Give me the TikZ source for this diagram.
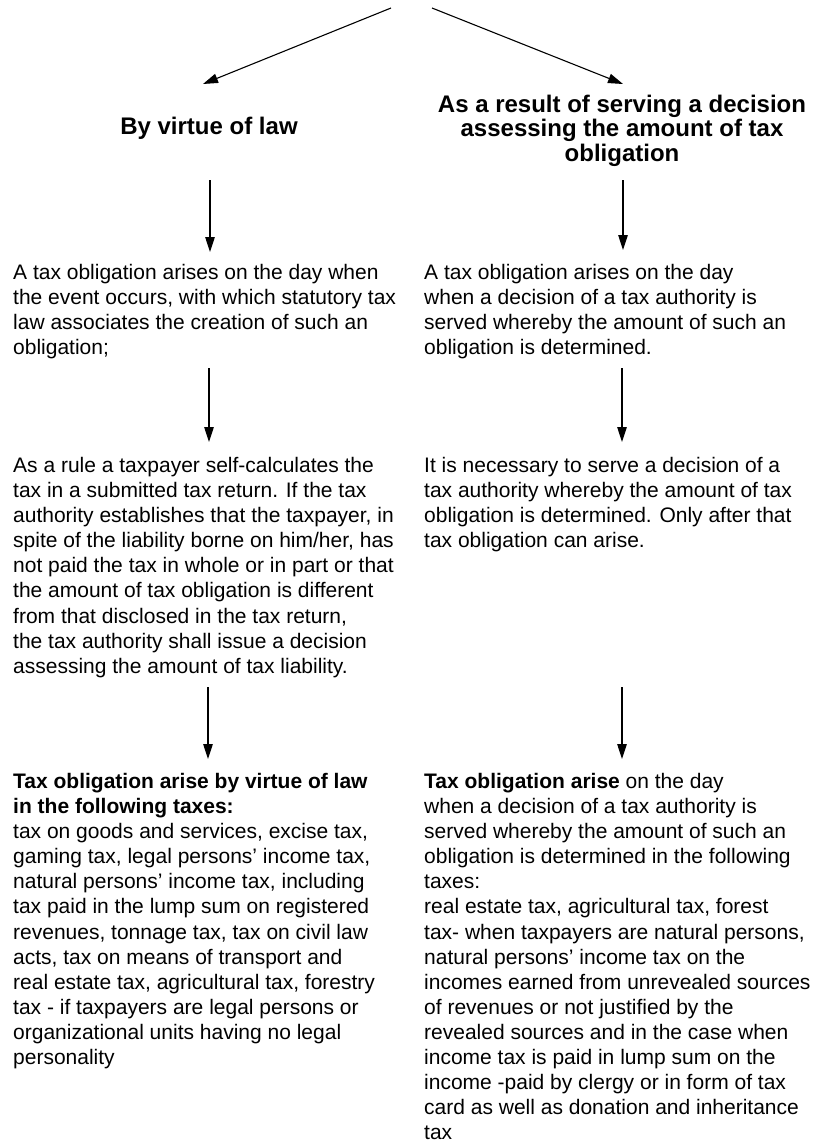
\documentclass[tikz,border=0pt]{standalone}
\usepackage{fontspec}
\setmainfont{Liberation Sans}
\usetikzlibrary{arrows.meta}
\tikzset{
  body/.style={font=\fontsize{21}{25.1}\selectfont, align=left, anchor=north west, inner sep=0pt},
  head/.style={font=\fontsize{24}{24.6}\selectfont\bfseries, align=center, anchor=north, inner sep=0pt},
  arr/.style={-{Triangle[length=15pt,width=9.5pt]}, line width=1.1pt}
}
\begin{document}
\begin{tikzpicture}[x=1pt,y=-1pt]
\useasboundingbox (0,0) rectangle (821,1146);
% headings
\node[head] (hL) at (209,116.5) {By virtue of law};
\node[head] (hR) at (622,94.5) {As a result of serving a decision\\assessing the amount of tax\\obligation};
% left column
\node[body] (l1) at (13,264) {A tax obligation arises on the day when\\the event occurs, with which statutory tax\\law associates the creation of such an\\obligation;};
\node[body] (l2) at (13,457) {As a rule a taxpayer self-calculates the\\tax in a submitted tax return. If the tax\\authority establishes that the taxpayer, in\\spite of the liability borne on him/her, has\\not paid the tax in whole or in part or that\\the amount of tax obligation is different\\from that disclosed in the tax return,\\the tax authority shall issue a decision\\assessing the amount of tax liability.};
\node[body] (l3) at (13,773) {\textbf{Tax obligation arise by virtue of law}\\\textbf{in the following taxes:}\\tax on goods and services, excise tax,\\gaming tax, legal persons’ income tax,\\natural persons’ income tax, including\\tax paid in the lump sum on registered\\revenues, tonnage tax, tax on civil law\\acts, tax on means of transport and\\real estate tax, agricultural tax, forestry\\tax - if taxpayers are legal persons or\\organizational units having no legal\\personality};
% right column
\node[body] (r1) at (424,264) {A tax obligation arises on the day\\when a decision of a tax authority is\\served whereby the amount of such an\\obligation is determined.};
\node[body] (r2) at (424,457) {It is necessary to serve a decision of a\\tax authority whereby the amount of tax\\obligation is determined. Only after that\\tax obligation can arise.};
\node[body] (r3) at (424,773) {\textbf{Tax obligation arise} on the day\\when a decision of a tax authority is\\served whereby the amount of such an\\obligation is determined in the following\\taxes:\\real estate tax, agricultural tax, forest\\tax- when taxpayers are natural persons,\\natural persons’ income tax on the\\incomes earned from unrevealed sources\\of revenues or not justified by the\\revealed sources and in the case when\\income tax is paid in lump sum on the\\income -paid by clergy or in form of tax\\card as well as donation and inheritance\\tax};
% arrow end points
\coordinate (tL) at (391,8);
\coordinate (tR) at (432,8);
\coordinate (aL0) at (203,84);
\coordinate (aR0) at (623,84);
\coordinate (sL1) at (210,180); \coordinate (eL1) at (210,252);
\coordinate (sR1) at (623,180); \coordinate (eR1) at (623,250);
\coordinate (sL2) at (209,368); \coordinate (eL2) at (209,442);
\coordinate (sR2) at (622,368); \coordinate (eR2) at (622,442);
\coordinate (sL3) at (208,687); \coordinate (eL3) at (208,759);
\coordinate (sR3) at (622,687); \coordinate (eR3) at (622,759);
\draw[arr] (tL) -- (aL0);
\draw[arr] (tR) -- (aR0);
\draw[arr] (sL1) -- (eL1);
\draw[arr] (sR1) -- (eR1);
\draw[arr] (sL2) -- (eL2);
\draw[arr] (sR2) -- (eR2);
\draw[arr] (sL3) -- (eL3);
\draw[arr] (sR3) -- (eR3);
\end{tikzpicture}
\end{document}
